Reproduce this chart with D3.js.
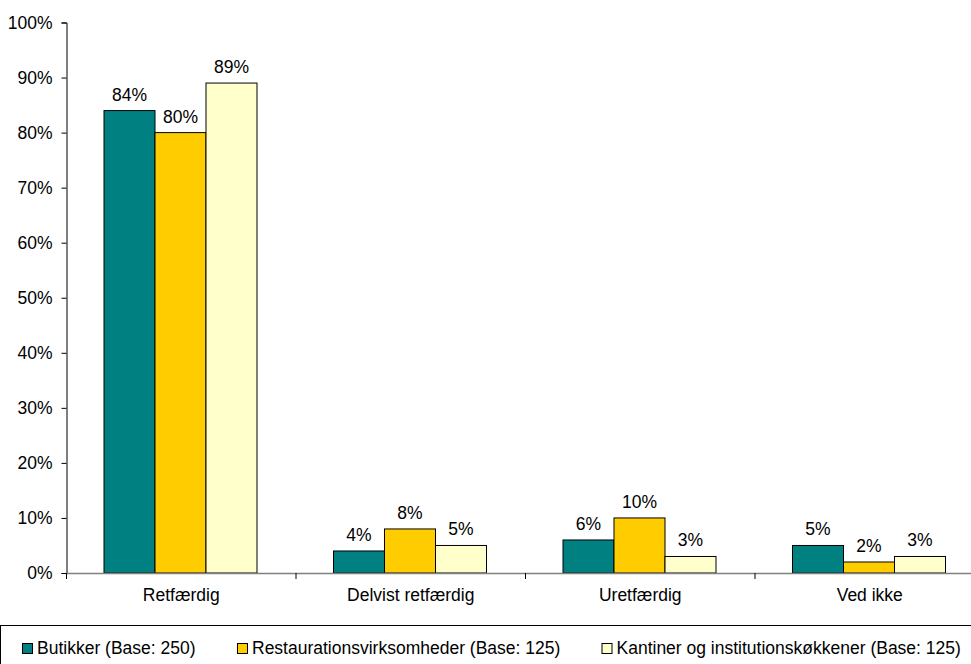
<!DOCTYPE html>
<html>
<head>
<meta charset="utf-8">
<script src="https://cdn.jsdelivr.net/npm/d3@7"></script>
<style>
  body { margin: 0; background: #fff; }
  text { font-family: "Liberation Sans", Arial, sans-serif; fill: #000; }
</style>
</head>
<body>
<div id="chart"></div>
<script>
const categories = ["Retfærdig", "Delvist retfærdig", "Uretfærdig", "Ved ikke"];
const seriesNames = ["Butikker (Base: 250)", "Restaurationsvirksomheder (Base: 125)", "Kantiner og institutionskøkkener (Base: 125)"];
const butikker = [84, 4, 6, 5];
const restauration = [80, 8, 10, 2];
const kantiner = [89, 5, 3, 3];
const yTicks = [0, 10, 20, 30, 40, 50, 60, 70, 80, 90, 100];
const colors = ["#008080", "#FFCC00", "#FFFFCC"];

const width = 971, height = 664;
const fs = 17.5;
const svg = d3.select("#chart").append("svg")
  .attr("width", width).attr("height", height);

const left = 66.5, step = 229.5;
const y = d3.scaleLinear().domain([0, 100]).range([573, 22.5]);
const x0 = d3.scaleBand().domain(categories).range([left, left + step * 4]).padding(0);
const x1 = d3.scaleBand().domain(seriesNames).range([37.5, 37.5 + 153]).padding(0);

const allSeries = [butikker, restauration, kantiner];
const data = categories.flatMap((c, i) => seriesNames.map((s, j) => ({ cat: c, series: s, value: allSeries[j][i], idx: j })));

// y axis
const yAxis = svg.append("g")
  .attr("transform", `translate(${left},0)`)
  .call(d3.axisLeft(y).tickValues(yTicks).tickSize(5).tickPadding(9).tickFormat(d => d + "%"));
yAxis.attr("font-family", null).attr("font-size", null);
yAxis.select(".domain").attr("stroke", "#000");
yAxis.selectAll(".tick line").attr("stroke", "#000");
yAxis.selectAll("text").style("font-size", fs + "px").attr("fill", "#000");

// bars
svg.selectAll(".bar")
  .data(data)
  .enter().append("rect")
  .attr("class", "bar")
  .attr("x", d => x0(d.cat) + x1(d.series))
  .attr("y", d => y(d.value))
  .attr("width", x1.bandwidth())
  .attr("height", d => y(0) - y(d.value))
  .attr("fill", d => colors[d.idx])
  .attr("stroke", "#000")
  .attr("stroke-width", 1);

// x axis
const xAxis = svg.append("g")
  .attr("transform", `translate(0,${y(0)})`)
  .call(d3.axisBottom(x0).tickSize(0).tickPadding(16));
xAxis.attr("font-family", null).attr("font-size", null);
xAxis.select(".domain").attr("stroke", "#808080").attr("stroke-width", 1.5);
xAxis.selectAll("text").style("font-size", fs + "px").attr("fill", "#000");
svg.selectAll(".xtick")
  .data(d3.range(categories.length + 1))
  .enter().append("line")
  .attr("x1", i => left + i * step).attr("x2", i => left + i * step)
  .attr("y1", y(0)).attr("y2", y(0) + 6)
  .attr("stroke", "#000");

// value labels
svg.selectAll(".lbl")
  .data(data)
  .enter().append("text")
  .attr("x", d => x0(d.cat) + x1(d.series) + x1.bandwidth() / 2)
  .attr("y", d => y(d.value) - 10)
  .attr("text-anchor", "middle")
  .style("font-size", fs + "px")
  .text(d => d.value + "%");

// legend
svg.append("rect")
  .attr("x", 0.5).attr("y", 625.5).attr("width", 990).attr("height", 60)
  .attr("fill", "#fff").attr("stroke", "#000");
const legendX = [22, 237, 601.5];
const lg = svg.selectAll(".leg")
  .data(seriesNames)
  .enter().append("g")
  .attr("transform", (d, i) => `translate(${legendX[i]},643)`);
lg.append("rect")
  .attr("x", 0.5).attr("y", 0.5).attr("width", 10).attr("height", 10)
  .attr("fill", (d, i) => colors[i]).attr("stroke", "#000");
lg.append("text")
  .attr("x", 15).attr("y", 11)
  .style("font-size", fs + "px")
  .text(d => d);
</script>
</body>
</html>
